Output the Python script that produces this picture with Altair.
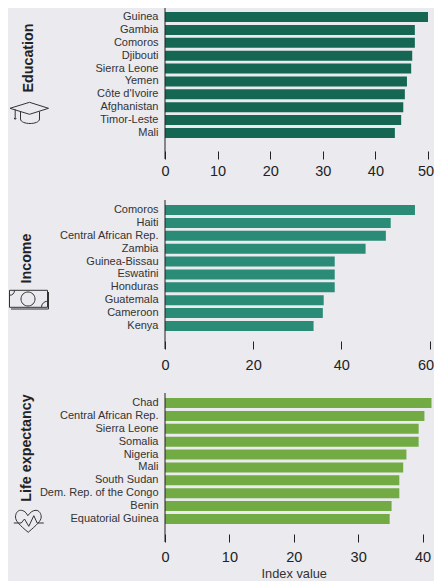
import re
import altair as alt
import pandas as pd

BG = "#EAEAEF"
INK = "#222222"

edu_names = ["Guinea", "Gambia", "Comoros", "Djibouti", "Sierra Leone", "Yemen", "Côte d'Ivoire", "Afghanistan", "Timor-Leste", "Mali"]
edu_values = [50.0, 47.5, 47.5, 47.0, 46.8, 46.0, 45.6, 45.3, 44.9, 43.7]
edu_ticks = [0, 10, 20, 30, 40, 50]

inc_names = ["Comoros", "Haiti", "Central African Rep.", "Zambia", "Guinea-Bissau", "Eswatini", "Honduras", "Guatemala", "Cameroon", "Kenya"]
inc_values = [56.7, 51.2, 50.1, 45.5, 38.5, 38.5, 38.5, 36.0, 35.8, 33.7]
inc_ticks = [0, 20, 40, 60]

life_names = ["Chad", "Central African Rep.", "Sierra Leone", "Somalia", "Nigeria", "Mali", "South Sudan", "Dem. Rep. of the Congo", "Benin", "Equatorial Guinea"]
life_values = [41.4, 40.3, 39.4, 39.4, 37.5, 37.0, 36.4, 36.4, 35.2, 34.9]
life_ticks = [0, 10, 20, 30, 40]

ICON_R = 20.0
LEFT_EDGE = -156.5


def unit(path):
    return re.sub(r"-?\d+\.?\d*", lambda m: f"{float(m.group()) / ICON_R:.3f}", path)


cap = unit(
    "M-19.5 -2.7 L0 -8.7 L19 -2.7 L0 3.3 Z "
    "M-9 0.7 L-9 8 C-9 11 -4 12.5 0.5 12.5 C5 12.5 10 11 10 8 L10 0.7 "
    "M-14.3 -1.7 L-14.3 6.5 M-15 7 L-13.6 7 L-13.6 8 L-15 8 Z"
)
money = unit(
    "M-19.5 -8.7 L18.5 -8.7 L18.5 8.3 L-19.5 8.3 Z "
    "M-18 10 L19.5 10 L19.5 -7 "
    "M6 0 C6 -3.9 2.9 -7 -1 -7 C-4.9 -7 -8 -3.9 -8 0 C-8 3.9 -4.9 7 -1 7 C2.9 7 6 3.9 6 0 Z "
    "M-19.5 -3.7 C-16.5 -3.7 -14.5 -5.7 -14.5 -8.7 "
    "M18.5 2.3 C15 2.3 12.5 5 12.5 8.3"
)
heart = unit(
    "M-0.7 -6.3 C-3 -11 -6 -11.7 -8 -11.7 C-11 -11.7 -13 -8.5 -13 -5 C-13 -1 -9 3 -0.3 10.3 "
    "C8 3 12.7 -1 12.7 -5 C12.7 -8.5 10.5 -11.7 7.5 -11.7 C4.5 -11.7 2 -10 -0.7 -6.3 "
    "M-14.7 1 L-7.3 1 L-4 -3 L0.3 4.3 L5.3 -6.3 L8.7 1 L15.3 1"
)


def panel(names, values, ticks, color, title, title_x, title_y, icon, icon_x, icon_y,
          width, height, label_pad, reserve, band_top, last_shift, axis_title=None):
    df = pd.DataFrame({"name": names, "value": values})
    axis_kw = dict(
        values=ticks, domain=False, grid=False, tickSize=8, offset=-8, tickColor=INK, tickWidth=1,
        labelFont="Liberation Sans", labelFontSize=14.5, labelColor=INK, labelPadding=label_pad,
        labelAngle=0, labelFlush=False, labelOverlap=False,
        labelOffset=alt.expr(f"datum.value == {ticks[-1]} ? {last_shift} : 0"),
        title=axis_title, titleFont="Liberation Sans", titleFontSize=12.8, titleFontWeight="normal",
        titleColor="#333333", titlePadding=4,
    )
    bars = alt.Chart(df).mark_bar(color=color, clip=False).encode(
        x=alt.X("value:Q", axis=alt.Axis(**axis_kw),
                scale=alt.Scale(domain=[ticks[0], ticks[-1]], nice=False)),
        y=alt.Y("name:N", sort=None,
                scale=alt.Scale(domain=names, range=[band_top, band_top + 126], paddingInner=0.22, paddingOuter=0),
                axis=alt.Axis(title=None, domain=False, ticks=False, labelFont="Liberation Sans",
                              labelFontSize=11, labelColor="#333333", labelPadding=7,
                              labelBound=False, labelOverlap=False)),
    )
    one = alt.Data(values=[{"k": 1}])
    line = alt.Chart(one).mark_rule(color=INK, strokeWidth=1).encode(
        x=alt.value(0), y=alt.value(0), y2=alt.value(height))
    space = alt.Chart(one).mark_rule(opacity=0, strokeWidth=0).encode(
        x=alt.value(LEFT_EDGE), x2=alt.value(0), y=alt.value(height + reserve))
    label = alt.Chart(one).mark_text(
        text=title, angle=270, font="Liberation Sans", fontWeight="bold", fontSize=14.3,
        color="#222222", align="center", baseline="middle",
    ).encode(x=alt.value(title_x), y=alt.value(title_y))
    glyph = alt.Chart(one).mark_point(
        shape=icon, size=(2 * ICON_R) ** 2, filled=False, stroke="#333333", strokeWidth=1, opacity=1,
    ).encode(x=alt.value(icon_x), y=alt.value(icon_y))
    return alt.layer(bars, line, space, label, glyph).properties(width=width, height=height)


p1 = panel(edu_names, edu_values, edu_ticks, "#156753", "Education", -136, 50, cap, -135.5, 103, 263, 151, 5, 40, 4, -2.5)
p2 = panel(inc_names, inc_values, inc_ticks, "#2A8B76", "Income", -138.5, 58.5, money, -136, 99, 264.5, 149, 9, 42.5, 5, -4)
p3 = panel(life_names, life_values, life_ticks, "#72AB43", "Life expectancy", -138, 55, heart, -136.5, 129, 257.5, 149, 8, 20, 5, 0, "Index value")

chart = alt.vconcat(p1, p2, p3, spacing=0).resolve_scale(x="independent", y="independent").properties(
    background=BG,
    padding={"left": -1, "top": -1, "right": 0, "bottom": 0},
).configure_view(stroke=None)

chart.save("out.html", embed_options={"renderer": "svg", "actions": False})
